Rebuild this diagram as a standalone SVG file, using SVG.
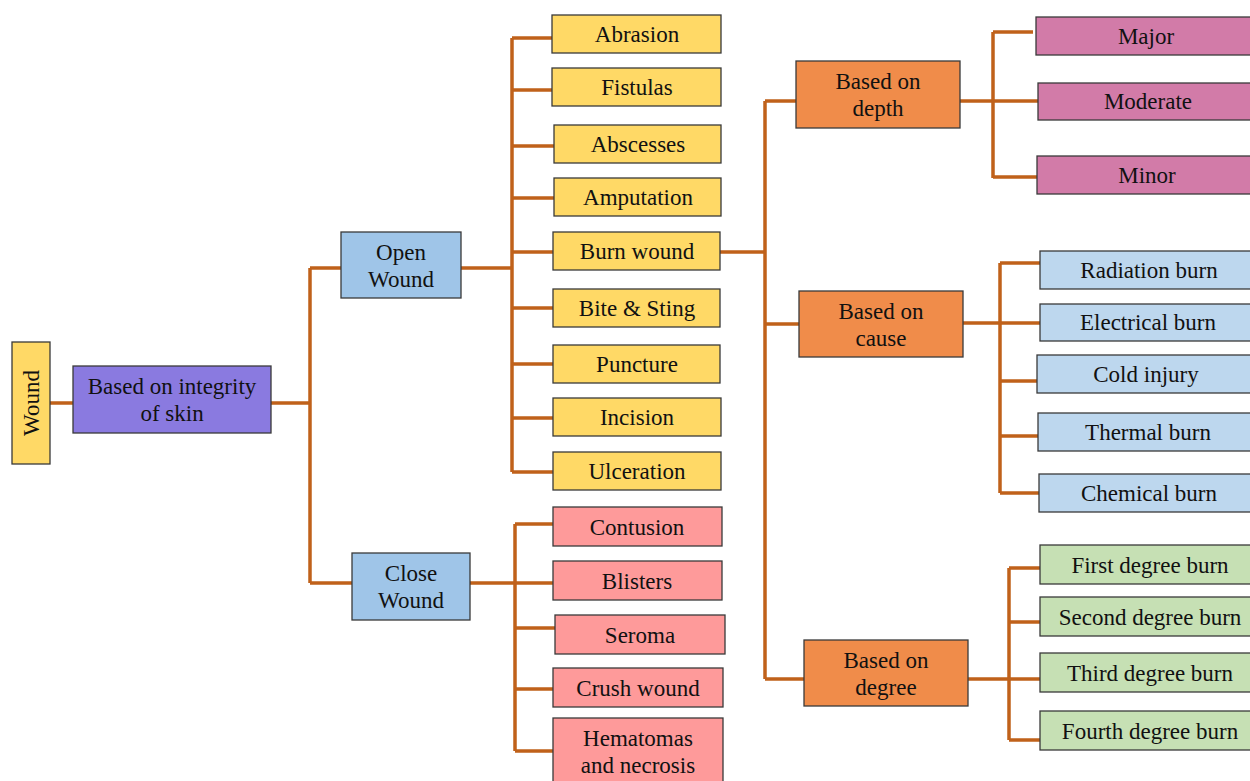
<svg xmlns="http://www.w3.org/2000/svg" width="1250" height="781" viewBox="0 0 1250 781">
<style>
.b{stroke:#3a3a3a;stroke-width:1.3}
.y{fill:#ffd966}.p{fill:#8a7ae0}.bl{fill:#9fc5e8}.pk{fill:#fe9a9a}.o{fill:#f08c4a}.m{fill:#d27ba8}.lb{fill:#bdd7ee}.g{fill:#c6e0b4}
text{font-family:"Liberation Serif","Times New Roman",serif;font-size:23px;fill:#111;text-anchor:middle}
.c{fill:none;stroke:#c0611a;stroke-width:3.5}
</style>
<rect width="1250" height="781" fill="#fff"/>
<g id="connectors" class="c">
<path d="M50 403H73M271 403H310M310 268V583M310 268H341M310 583H352"/>
<path d="M461 268H512M512 38V472M512 38H552M512 90H552M512 146H554M512 198H554M512 252H553M512 308H553M512 364H553M512 418H553M512 472H553"/>
<path d="M470 583H515M515 524V751M515 524H553M515 583H553M515 628H555M515 689H553M515 751H553"/>
<path d="M720 252H765M765 101V679M765 101H796M765 324H799M765 679H804"/>
<path d="M960 101H1038M993 32V178M993 32H1033M993 177H1037"/>
<path d="M963 323H1040M1000 263V493M1000 263H1040M1000 381H1037M1000 436H1038M1000 493H1039"/>
<path d="M968 679H1040M1009 568V740M1009 568H1040M1009 622H1040M1009 740H1040"/>
</g>
<g id="wound"><rect class="b y" x="12" y="342" width="38" height="122"/><text transform="translate(39 403) rotate(-90)">Wound</text></g>
<g id="integrity"><rect class="b p" x="73" y="366" width="198" height="67"/><text x="172" y="394">Based on integrity</text><text x="172" y="421">of skin</text></g>
<g id="open"><rect class="b bl" x="341" y="232" width="120" height="66"/><text x="401" y="260">Open</text><text x="401" y="287">Wound</text></g>
<g id="close"><rect class="b bl" x="352" y="553" width="118" height="67"/><text x="411" y="581">Close</text><text x="411" y="608">Wound</text></g>
<g id="abrasion"><rect class="b y" x="552" y="15" width="169" height="38"/><text x="637" y="42">Abrasion</text></g>
<g id="fistulas"><rect class="b y" x="552" y="68" width="169" height="38"/><text x="637" y="95">Fistulas</text></g>
<g id="abscesses"><rect class="b y" x="554" y="125" width="167" height="38"/><text x="638" y="152">Abscesses</text></g>
<g id="amputation"><rect class="b y" x="554" y="178" width="167" height="38"/><text x="638" y="205">Amputation</text></g>
<g id="burn"><rect class="b y" x="553" y="232" width="167" height="38"/><text x="637" y="259">Burn wound</text></g>
<g id="bite"><rect class="b y" x="553" y="289" width="167" height="38"/><text x="637" y="316">Bite &amp; Sting</text></g>
<g id="puncture"><rect class="b y" x="553" y="345" width="167" height="38"/><text x="637" y="372">Puncture</text></g>
<g id="incision"><rect class="b y" x="553" y="398" width="168" height="38"/><text x="637" y="425">Incision</text></g>
<g id="ulceration"><rect class="b y" x="553" y="452" width="168" height="38"/><text x="637" y="479">Ulceration</text></g>
<g id="contusion"><rect class="b pk" x="553" y="507" width="169" height="39"/><text x="637" y="535">Contusion</text></g>
<g id="blisters"><rect class="b pk" x="553" y="561" width="169" height="39"/><text x="637" y="589">Blisters</text></g>
<g id="seroma"><rect class="b pk" x="555" y="615" width="170" height="39"/><text x="640" y="643">Seroma</text></g>
<g id="crush"><rect class="b pk" x="553" y="668" width="170" height="39"/><text x="638" y="696">Crush wound</text></g>
<g id="hematomas"><rect class="b pk" x="553" y="718" width="170" height="66"/><text x="638" y="746">Hematomas</text><text x="638" y="773">and necrosis</text></g>
<g id="depth"><rect class="b o" x="796" y="61" width="164" height="67"/><text x="878" y="89">Based on</text><text x="878" y="116">depth</text></g>
<g id="cause"><rect class="b o" x="799" y="291" width="164" height="66"/><text x="881" y="319">Based on</text><text x="881" y="346">cause</text></g>
<g id="degree"><rect class="b o" x="804" y="640" width="164" height="66"/><text x="886" y="668">Based on</text><text x="886" y="695">degree</text></g>
<g id="major"><rect class="b m" x="1036" y="17" width="216" height="38"/><text x="1146" y="44">Major</text></g>
<g id="moderate"><rect class="b m" x="1038" y="83" width="214" height="37"/><text x="1148" y="109">Moderate</text></g>
<g id="minor"><rect class="b m" x="1037" y="156" width="215" height="38"/><text x="1147" y="183">Minor</text></g>
<g id="radiation"><rect class="b lb" x="1040" y="251" width="212" height="38"/><text x="1149" y="278">Radiation burn</text></g>
<g id="electrical"><rect class="b lb" x="1040" y="304" width="212" height="37"/><text x="1148" y="330">Electrical burn</text></g>
<g id="cold"><rect class="b lb" x="1037" y="355" width="215" height="38"/><text x="1146" y="382">Cold injury</text></g>
<g id="thermal"><rect class="b lb" x="1038" y="413" width="214" height="38"/><text x="1148" y="440">Thermal burn</text></g>
<g id="chemical"><rect class="b lb" x="1039" y="474" width="213" height="38"/><text x="1149" y="501">Chemical burn</text></g>
<g id="first"><rect class="b g" x="1040" y="545" width="212" height="39"/><text x="1150" y="573">First degree burn</text></g>
<g id="second"><rect class="b g" x="1040" y="597" width="212" height="39"/><text x="1150" y="625">Second degree burn</text></g>
<g id="third"><rect class="b g" x="1040" y="653" width="212" height="39"/><text x="1150" y="681">Third degree burn</text></g>
<g id="fourth"><rect class="b g" x="1040" y="711" width="212" height="39"/><text x="1150" y="739">Fourth degree burn</text></g>
</svg>
